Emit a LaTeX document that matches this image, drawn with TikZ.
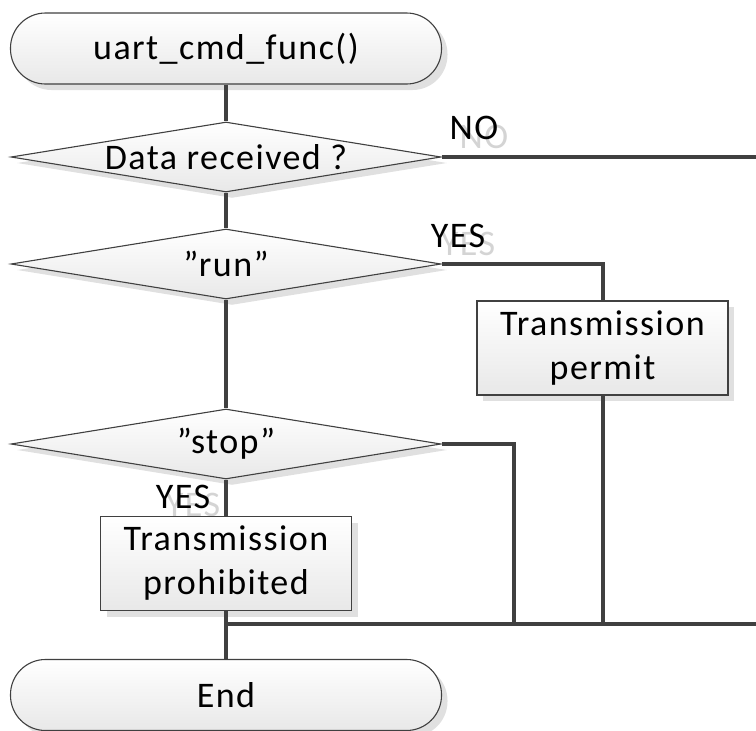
\documentclass[tikz,border=0pt]{standalone}
\usepackage{fontspec}
\setmainfont{Carlito}[LetterSpace=4]
\usetikzlibrary{shapes.geometric,shadows}
\definecolor{ln}{HTML}{404040}
\definecolor{ghost}{HTML}{D4D4D4}
\tikzset{
  shapebase/.style={draw=ln, line width=1.1pt, top color=white, bottom color=black!9,
    drop shadow={shadow xshift=6pt, shadow yshift=-6pt, fill=black!12, opacity=1},
    inner sep=0pt, font=\fontsize{36}{44}\selectfont},
  terminal/.style={shapebase, rectangle, rounded corners=35pt, minimum width=431pt, minimum height=71pt},
  decision/.style={shapebase, diamond, aspect=6, minimum width=430pt, minimum height=70pt},
  process/.style={shapebase, rectangle, align=center, minimum width=251pt, minimum height=94pt},
  conn/.style={draw=ln, line width=4pt},
  lbl/.style={inner sep=0pt, font=\fontsize{36}{44}\selectfont},
  lblghost/.style={lbl, text=ghost},
}
\begin{document}
\begin{tikzpicture}[x=1pt,y=-1pt]
\useasboundingbox (0,0) rectangle (756,731);
% ghost label shadows
\node[lblghost] (g1) at (484,137) {NO};
\node[lblghost] (g2) at (468,244) {YES};
\node[lblghost] (g3) at (193,505) {YES};
% nodes
\node[terminal] (start) at (226,48.5) {uart\_cmd\_func()};
\node[decision] (d1) at (226,157) {Data received ?};
\node[decision] (d2) at (226,264) {”run”};
\node[process] (permit) at (602.5,348) {Transmission\\permit};
\node[decision] (d3) at (226,444) {”stop”};
\node[process] (prohib) at (226,563.5) {Transmission\\prohibited};
\node[terminal] (end) at (226,695) {End};
\coordinate (noR) at (760,157);
\coordinate (bus) at (226,624);
\coordinate (busR) at (760,624);
\coordinate (stopJ) at (514,624);
\coordinate (permJ) at (602.5,624);
% connectors
\draw[conn] (start.south) -- (d1.north);
\draw[conn] (d1.east) -- (noR);
\draw[conn] (d1.south) -- (d2.north);
\draw[conn] (d2.east) -| (permit.north);
\draw[conn] (d2.south) -- (d3.north);
\draw[conn] (d3.east) -| (stopJ);
\draw[conn] (permit.south) -- (permJ);
\draw[conn] (d3.south) -- (prohib.north);
\draw[conn] (prohib.south) -- (end.north);
\draw[conn] (bus) -- (busR);
% labels
\node[lbl] (no) at (474,128) {NO};
\node[lbl] (yes1) at (458,236) {YES};
\node[lbl] (yes2) at (183,497) {YES};
\end{tikzpicture}
\end{document}
